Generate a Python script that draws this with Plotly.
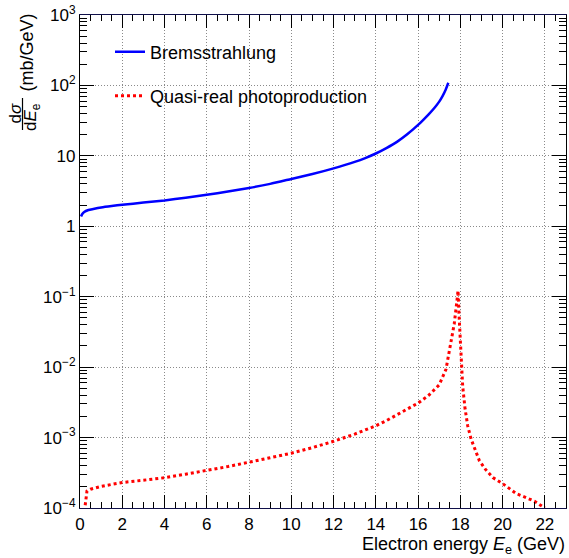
import numpy as np
import plotly.graph_objects as go

# ---------------- data ----------------
brem_E = [0.05, 0.1, 0.2, 0.4, 0.63, 1.0, 1.5, 2, 3, 4, 5, 6, 7, 8, 9, 10, 11, 12, 13, 13.5,
          14, 14.5, 15, 15.5, 16, 16.5, 16.75, 17, 17.15, 17.3, 17.43]
brem_val = [1.38, 1.48, 1.6, 1.7, 1.76, 1.85, 1.94, 2.02, 2.17, 2.33, 2.55, 2.8, 3.12, 3.5, 4.0,
            4.7, 5.52, 6.64, 8.2, 9.3, 10.8, 12.9, 15.8, 20.4, 27.5, 38.9, 47.0, 58.9, 70.0,
            86.0, 109.0]

photo_E = [0.21, 0.25, 0.33, 0.5, 0.77, 1.0, 1.5, 2, 3, 4, 5, 6, 7, 8, 9, 10, 11, 12, 13, 14,
           14.5, 15, 15.5, 16, 16.5, 17.0, 17.32, 17.5, 17.71, 17.83, 17.89,
           17.94, 18.02, 18.11, 18.22, 18.35, 18.51, 18.7, 18.9, 19.2, 19.54, 20.02, 20.65,
           21.0, 21.5, 22.0]
photo_val = [0.9e-4, 1.2e-4, 1.74e-4, 1.85e-4, 1.97e-4, 2.03e-4, 2.16e-4, 2.3e-4, 2.48e-4,
             2.69e-4, 3.02e-4, 3.39e-4, 3.88e-4, 4.47e-4, 5.15e-4, 6.0e-4, 7.2e-4, 8.85e-4,
             1.12e-3, 1.47e-3, 1.74e-3, 2.09e-3, 2.55e-3, 3.09e-3, 3.98e-3, 5.6e-3, 9.3e-3,
             0.018, 0.041, 0.083, 0.122,
             0.054, 0.016, 5.4e-3, 2.6e-3, 1.46e-3, 9.5e-4, 6.6e-4, 4.7e-4, 3.5e-4, 2.7e-4,
             2.2e-4, 1.6e-4, 1.45e-4, 1.25e-4, 1.0e-4]

series_names = ["Bremsstrahlung", "Quasi-real photoproduction"]

x_tickvals = list(range(0, 23, 2))
y_tickvals = [1e-4, 1e-3, 1e-2, 1e-1, 1, 10, 1e2, 1e3]
y_ticktext = ["10<sup>\u22124</sup>", "10<sup>\u22123</sup>", "10<sup>\u22122</sup>",
              "10<sup>\u22121</sup>", "1", "10", "10<sup>2</sup>", "10<sup>3</sup>"]

# ---------------- figure ----------------
W, H = 569, 558
ML, MR, MT, MB = 80, 3, 15, 50
PW, PH = W - ML - MR, H - MT - MB
FONT = "Liberation Sans, Arial, Helvetica, sans-serif"


def px2paper(px, py):
    return (px - ML) / PW, (H - MB - py) / PH


fig = go.Figure()
fig.add_trace(go.Scatter(x=brem_E, y=brem_val, mode="lines", name=series_names[0],
                         line=dict(color="#0000ff", width=2.5, shape="spline", smoothing=0.6),
                         legend="legend"))
fig.add_trace(go.Scatter(x=photo_E, y=photo_val, mode="lines", name=series_names[1],
                         line=dict(color="#ff0000", width=3, dash="dot"), legend="legend2"))

y_minor = [m * 10.0 ** d for d in range(-4, 3) for m in range(2, 10)]

fig.update_xaxes(range=[0, 23], tickvals=x_tickvals, ticks="inside", ticklen=13, tickwidth=1.2,
                 tickcolor="black", showline=True, linecolor="#10104a", linewidth=1.4,
                 mirror="ticks", showgrid=True, gridcolor="#8a8a8a", griddash="1px,2px",
                 gridwidth=1, zeroline=False, automargin=False,
                 tickfont=dict(family=FONT, size=17, color="black"),
                 minor=dict(dtick=0.5, ticks="inside", ticklen=6, tickwidth=1.2,
                            tickcolor="black", showgrid=False))
fig.update_yaxes(type="log", range=[-4, 3], tickvals=y_tickvals, ticktext=y_ticktext,
                 ticks="inside", ticklen=14, tickwidth=1.2, tickcolor="black",
                 showline=True, linecolor="black", linewidth=1.2, mirror="ticks",
                 showgrid=True, gridcolor="#8a8a8a", griddash="1px,2px", gridwidth=1,
                 zeroline=False, automargin=False,
                 tickfont=dict(family=FONT, size=17, color="black"),
                 minor=dict(tickvals=y_minor, ticks="inside", ticklen=7, tickwidth=1.2,
                            tickcolor="black", showgrid=False))

annotations = []
# x title
ax, ay = px2paper(567, 545)
annotations.append(dict(text="Electron energy <i>E</i><sub>e</sub> (GeV)", x=ax, y=ay,
                        xref="paper", yref="paper", xanchor="right", yanchor="middle",
                        showarrow=False, font=dict(family=FONT, size=18, color="black")))
# y title pieces
ax, ay = px2paper(26.5, 53)
annotations.append(dict(text="(mb/GeV)", x=ax, y=ay, xref="paper", yref="paper",
                        xanchor="center", yanchor="middle", textangle=-90, showarrow=False,
                        font=dict(family=FONT, size=18, color="black")))
ax, ay = px2paper(15.5, 114)
annotations.append(dict(text="d<i>\u03c3</i>", x=ax, y=ay, xref="paper", yref="paper",
                        xanchor="center", yanchor="middle", textangle=-90, showarrow=False,
                        font=dict(family=FONT, size=17, color="black")))
ax, ay = px2paper(32, 117)
annotations.append(dict(text="d<i>E</i><sub>e</sub>", x=ax, y=ay, xref="paper", yref="paper",
                        xanchor="center", yanchor="middle", textangle=-90, showarrow=False,
                        font=dict(family=FONT, size=17, color="black")))
lx0, ly0 = px2paper(22.5, 98)
lx1, ly1 = px2paper(22.5, 130)

l1x, l1y = px2paper(110, 52)
l2x, l2y = px2paper(110, 96)

fig.update_layout(
    width=W, height=H, autosize=False,
    margin=dict(l=ML, r=MR, t=MT, b=MB, pad=0, autoexpand=False),
    paper_bgcolor="white", plot_bgcolor="white",
    font=dict(family=FONT, size=17, color="black"),
    annotations=annotations,
    shapes=[dict(type="line", xref="paper", yref="paper", x0=lx0, y0=ly0, x1=lx1, y1=ly1,
                 line=dict(color="black", width=1.2))],
    legend=dict(x=l1x, y=l1y, xanchor="left", yanchor="middle", bgcolor="rgba(0,0,0,0)",
                font=dict(family=FONT, size=18, color="black"), itemwidth=30),
    legend2=dict(x=l2x, y=l2y, xanchor="left", yanchor="middle", bgcolor="rgba(0,0,0,0)",
                 font=dict(family=FONT, size=18, color="black"), itemwidth=30),
    showlegend=True,
)

fig.write_html("out.html", config={"displayModeBar": False},
               post_script="document.body.style.margin='0';document.body.style.overflow='hidden';")
